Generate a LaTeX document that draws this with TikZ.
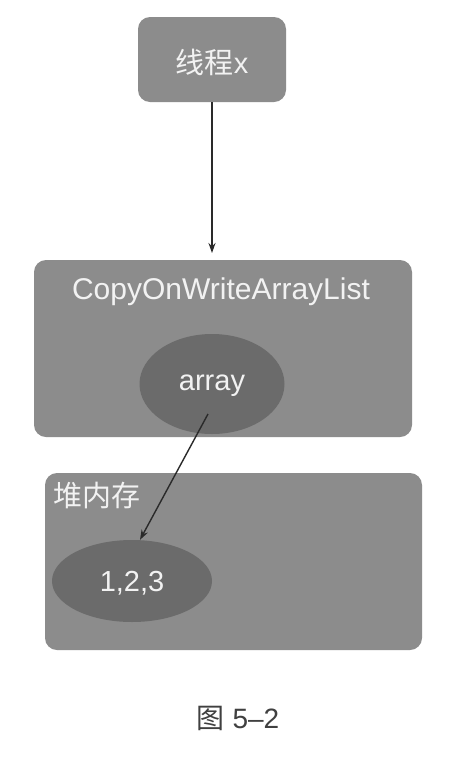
\documentclass[tikz,border=0pt]{standalone}
\usepackage{fontspec}
\setmainfont{Liberation Sans}
\newfontfamily\cjk{Noto Sans CJK SC}
\usetikzlibrary{arrows.meta,shapes.geometric}
\definecolor{boxgray}{HTML}{8C8C8C}
\definecolor{ellgray}{HTML}{6B6B6B}
\definecolor{txtlight}{HTML}{F2F2F2}
\definecolor{arrowc}{HTML}{2A2A2A}
\tikzset{
  x=1pt,y=-1pt,
  panel/.style={fill=boxgray,draw=none,rounded corners=12pt},
  blob/.style={ellipse,fill=ellgray,draw=none,inner sep=0pt},
  lbl/.style={text=txtlight,font=\fontsize{29}{32}\selectfont,inner sep=0pt},
  link/.style={draw=arrowc,line width=1.4pt,-{Stealth[length=10pt,width=7pt]}}
}
\begin{document}
\begin{tikzpicture}
\useasboundingbox (0,0) rectangle (474,764);
\fill[white] (0,0) rectangle (474,764);
% thread box
\node[panel,minimum width=148pt,minimum height=85pt] (thread) at (212,59.5) {};
\node[lbl] (threadtxt) at (212,62) {\cjk 线程\rmfamily x};
% CopyOnWriteArrayList box
\node[panel,minimum width=378pt,minimum height=177pt] (cow) at (223,348.5) {};
\node[lbl,font=\fontsize{30}{32}\selectfont] (cowtxt) at (221,292) {CopyOnWriteArrayList};
\node[blob,minimum width=145pt,minimum height=100pt] (arr) at (212,384) {};
\node[lbl] (arrtxt) at (212,386) {array};
% heap box
\node[panel,minimum width=377pt,minimum height=177pt] (heap) at (233.5,561.5) {};
\node[lbl,anchor=west] (heaptxt) at (53,496) {\cjk 堆内存};
\node[blob,minimum width=160pt,minimum height=82pt] (vals) at (132,581) {};
\node[lbl] (valstxt) at (132,583) {1,2,3};
% connectors
\coordinate (arrstart) at (208,414);
\path[link] (thread.south) -- (212,253);
\path[link] (arrstart) -- (vals.north -| 140,0);
% caption
\node[font=\fontsize{28}{32}\selectfont,text=black!75,inner sep=0pt] (cap) at (238,718) {{\cjk 图} 5\textendash2};
\end{tikzpicture}
\end{document}
